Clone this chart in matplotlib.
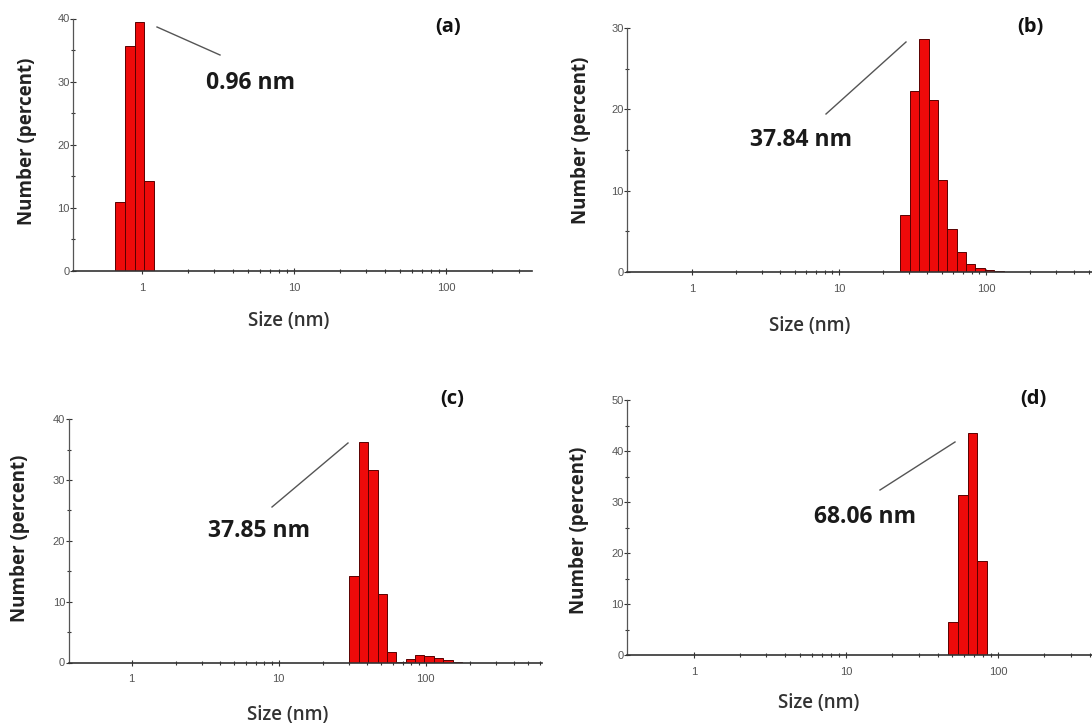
import matplotlib
matplotlib.use("Agg")
import matplotlib.pyplot as plt
import matplotlib.ticker as mticker
from matplotlib.lines import Line2D

plt.rcParams['font.family'] = ['Open Sans', 'DejaVu Sans']

# ---------------- data (Malvern size classes, nm) ----------------
a_sizes = [0.7195, 0.8332, 0.9649, 1.117]
a_pct = [10.9, 35.7, 39.4, 14.3]

b_sizes = [28.21, 32.67, 37.84, 43.82, 50.75, 58.77, 68.06, 78.82, 91.28, 105.7, 122.4, 141.8]
b_pct = [7.0, 22.3, 28.7, 21.2, 11.3, 5.3, 2.5, 1.0, 0.55, 0.25, 0.1, 0.04]

c_sizes = [32.67, 37.84, 43.82, 50.75, 58.77, 68.06, 78.82, 91.28, 105.7, 122.4, 141.8, 164.2]
c_pct = [14.2, 36.3, 31.7, 11.3, 1.65, 0.15, 0.65, 1.25, 1.1, 0.7, 0.4, 0.15]

d_sizes = [50.75, 58.77, 68.06, 78.82]
d_pct = [6.5, 31.4, 43.5, 18.5]

panel_labels = ['(a)', '(b)', '(c)', '(d)']
peak_labels = ['0.96 nm', '37.84 nm', '37.85 nm', '68.06 nm']
x_tick_vals = [1, 10, 100]
x_tick_text = ['1', '10', '100']
ylims = [40, 30, 40, 50]

RATIO = 1.15808  # ratio between adjacent size classes

W, H = 1092, 724
fig = plt.figure(figsize=(W / 100, H / 100), dpi=100)


def fx(px):
    return px / W


def fy(py):
    return 1 - py / H


# axes rectangles in pixels: left, right, y of zero, y of top, x limits
rects = [
    (73, 532, 270.7, 18.5, (0.352, 368)),
    (627, 1092, 272, 28, (0.361, 527)),
    (68.6, 542, 662.5, 419.3, (0.373, 619)),
    (627, 1092, 655.3, 400, (0.363, 415)),
]
datasets = [(a_sizes, a_pct), (b_sizes, b_pct), (c_sizes, c_pct), (d_sizes, d_pct)]

for i, ((l, r, y0, yt, xl), (sz, pc)) in enumerate(zip(rects, datasets)):
    ax = fig.add_axes([fx(l), fy(y0), fx(r - l), (y0 - yt) / H])
    ax.set_xscale('log')
    lefts = [s / RATIO ** 0.5 for s in sz]
    widths = [s * (RATIO ** 0.5 - RATIO ** -0.5) for s in sz]
    ax.bar(lefts, pc, width=widths, align='edge', color='#ee0a0a',
           edgecolor='#5a0000', linewidth=0.7, zorder=2)
    ax.set_xlim(*xl)
    ax.set_ylim(0, ylims[i])
    for s in ['top', 'right']:
        ax.spines[s].set_visible(False)
    ax.spines['left'].set_color('#555555')
    ax.spines['left'].set_linewidth(0.9)
    ax.spines['bottom'].set_color('#333333')
    ax.spines['bottom'].set_linewidth(1.2)
    ax.spines['bottom'].set_zorder(3)
    ax.set_xticks(x_tick_vals)
    ax.set_xticklabels(x_tick_text)
    minor = [m * d for d in (1, 10, 100) for m in range(2, 10) if m * d < xl[1]]
    ax.xaxis.set_minor_locator(mticker.FixedLocator(minor))
    ax.xaxis.set_minor_formatter(mticker.NullFormatter())
    ax.yaxis.set_major_locator(mticker.MultipleLocator(10))
    ax.yaxis.set_minor_locator(mticker.MultipleLocator(5))
    ax.tick_params(which='both', direction='inout', color='#333333', width=0.8)
    ax.tick_params(which='major', length=4)
    ax.tick_params(which='minor', length=3.5)
    ax.tick_params(axis='x', labelsize=8, labelcolor='#555555', pad=6.5)
    ax.tick_params(axis='y', labelsize=8, labelcolor='#555555', pad=0.5)
    for t in ax.get_xticklabels() + ax.get_yticklabels():
        t.set_family(['Liberation Sans', 'DejaVu Sans'])

# axis labels
ylab_pos = [(27, 141), (581, 140), (20, 538), (579, 530)]
xlab_pos = [(289, 321), (810, 326), (288, 715), (819, 703)]
for (x, y) in ylab_pos:
    fig.text(fx(x), fy(y), 'Number (percent)', rotation=90, ha='center', va='center',
             fontsize=13.5, fontweight='bold', color='#222222')
for (x, y) in xlab_pos:
    fig.text(fx(x), fy(y), 'Size (nm)', ha='center', va='center',
             fontsize=13.5, fontweight='semibold', color='#333333')

# panel labels
plab_pos = [(448, 27), (1030, 27), (452, 399), (1033, 399)]
for (x, y), t in zip(plab_pos, panel_labels):
    fig.text(fx(x), fy(y), t, ha='center', va='center', fontsize=14.5,
             fontweight='bold', color='#111111')

# peak annotations with leader lines
ann_pos = [(250, 83), (801, 140), (259, 531), (865, 517)]
lines = [((157, 27), (220, 55)), ((826, 114), (906, 42)),
         ((272, 507), (348, 443)), ((880, 490), (955, 442))]
for (x, y), t, ((x1, y1), (x2, y2)) in zip(ann_pos, peak_labels, lines):
    fig.text(fx(x), fy(y), t, ha='center', va='center', fontsize=16.5,
             fontweight='bold', color='#1a1a1a')
    fig.add_artist(Line2D([fx(x1), fx(x2)], [fy(y1), fy(y2)], color='#555555',
                          linewidth=1.0))

fig.savefig('out.png', dpi=100)
